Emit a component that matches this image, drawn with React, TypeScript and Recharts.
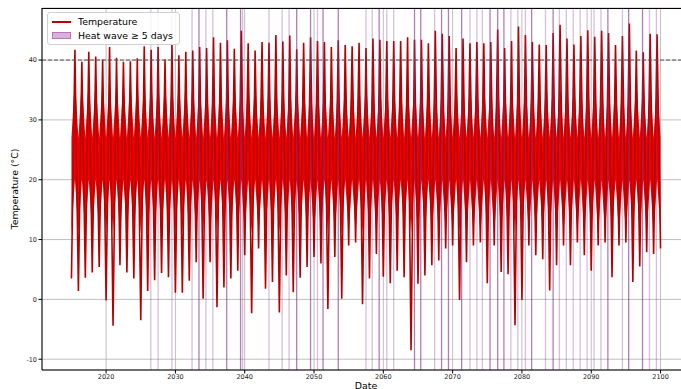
import React from 'react';
import {
  ComposedChart,
  Line,
  Area,
  XAxis,
  YAxis,
  CartesianGrid,
  ReferenceLine,
} from 'recharts';

// one summer peak and one winter low per year
const firstYear = 2015;
const summerPeaks = [
  41.7, 39.7, 41.4, 40.6, 40.1, 42.2, 40.4, 39.7, 39.8, 40.3,
  42.3, 41.7, 42.2, 40.1, 42.7, 40.8, 41.4, 41.6, 42.2, 42.0,
  43.8, 42.9, 43.3, 41.9, 44.9, 42.8, 41.6, 43.0, 42.9, 44.2,
  43.1, 44.1, 41.8, 42.9, 43.8, 43.2, 43.0, 42.2, 43.3, 42.5,
  42.3, 42.9, 42.0, 43.6, 43.4, 43.2, 43.2, 43.2, 43.8, 43.4,
  43.4, 42.8, 44.9, 44.4, 44.0, 42.0, 43.6, 42.8, 43.0, 42.8,
  43.0, 45.1, 42.0, 43.2, 45.6, 44.2, 43.0, 42.6, 42.5, 44.5,
  45.9, 43.6, 42.6, 44.0, 45.0, 43.9, 44.9, 44.5, 42.5, 44.0,
  46.1, 41.6, 41.3, 44.4, 44.3,
];
const winterLows = [
  3.5, 1.4, 3.6, 4.5, 5.4, -0.2, -4.4, 5.7, 4.5, 3.5,
  -3.5, 1.4, 3.2, 4.4, 3.7, 1.1, 1.1, 3.1, 6.2, 0.1,
  6.2, -1.3, 2.0, 3.5, 4.8, 7.4, -2.3, 8.5, 1.8, 2.9,
  -2.2, 4.0, 1.2, 3.6, 5.4, 7.1, 6.0, -1.6, 7.1, 0.1,
  9.0, 9.5, -0.8, 3.5, 7.6, 3.8, 2.7, 4.8, 3.7, -8.5,
  2.6, 4.0, 5.7, 6.5, 8.5, 9.0, -0.1, 6.2, 9.0, 9.5,
  2.7, 9.0, 4.6, 4.2, -4.3, -0.1, 9.0, 7.4, 6.7, 1.5,
  5.7, 9.0, 5.7, 9.5, 7.4, 4.8, 9.0, 9.5, 3.7, 9.0,
  9.5, 2.9, 5.5, 7.9, 7.6, 8.5,
];
// range of the dense daily band in winter and summer
const winterBand = [11, 27];
const summerBand = [20, 37];

// heat waves (decimal year of start), lighter and overlapping ones
const heatWaves = [
  2026.45, 2027.5, 2029.5, 2032.4, 2034.4, 2035.4, 2039.7, 2043.5, 2045.4,
  2046.4, 2050.5, 2057.5, 2058.4, 2060.5, 2061.5, 2067.4, 2072.5, 2073.5,
  2074.3, 2078.4, 2079.4, 2080.5, 2083.4, 2085.4, 2086.4, 2087.4, 2088.4,
  2089.4, 2090.4, 2091.4, 2094.5, 2098.4, 2099.4,
];
const heatWavesDark = [
  2033.4, 2037.4, 2039.4, 2047.5, 2049.5, 2051.3, 2053.5, 2059.4, 2064.5,
  2065.4, 2068.4, 2069.4, 2071.3, 2075.4, 2076.5, 2077.4, 2081.4, 2084.5,
  2092.4, 2095.4, 2097.4,
];

const xTicks = [2020, 2030, 2040, 2050, 2060, 2070, 2080, 2090, 2100];
const yTicks = [-10, 0, 10, 20, 30, 40];

const data: { t: number; temp: number; band: number[] }[] = [];
summerPeaks.forEach((peak, i) => {
  data.push({ t: firstYear + i, temp: winterLows[i], band: winterBand });
  data.push({ t: firstYear + i + 0.5, temp: peak, band: summerBand });
});
data.push({
  t: firstYear + summerPeaks.length,
  temp: winterLows[summerPeaks.length],
  band: winterBand,
});

const font = '"DejaVu Sans", sans-serif';
const tickStyle = { fill: '#222', fontSize: 6.5, fontFamily: font };

export default function App() {
  return (
    <div style={{ position: 'absolute', left: 0, top: 0, width: 700, height: 389, fontFamily: font }}>
      <ComposedChart
        width={700}
        height={389}
        data={data}
        margin={{ top: 8, right: 10, left: 0, bottom: 0 }}
      >
        <CartesianGrid stroke="#b0b0b0" strokeWidth={0.8} />
        <XAxis
          dataKey="t"
          type="number"
          domain={[2010.75, 2104.25]}
          ticks={xTicks}
          height={19}
          tick={tickStyle}
          tickSize={3.5}
          tickMargin={1}
          axisLine={{ stroke: '#000', strokeWidth: 1 }}
          tickLine={{ stroke: '#000' }}
          allowDataOverflow
        />
        <YAxis
          type="number"
          domain={[-11.8, 48.7]}
          ticks={yTicks}
          width={42}
          tick={tickStyle}
          tickSize={3.5}
          tickMargin={1.5}
          axisLine={{ stroke: '#000', strokeWidth: 1 }}
          tickLine={{ stroke: '#000' }}
          allowDataOverflow
        />
        <Area
          dataKey="band"
          type="linear"
          fill="#f20000"
          fillOpacity={1}
          stroke="none"
          isAnimationActive={false}
        />
        <Line
          dataKey="temp"
          type="linear"
          stroke="#b80000"
          strokeWidth={1.6}
          dot={false}
          isAnimationActive={false}
        />
        {heatWaves.map((d) => (
          <ReferenceLine key={`hw-${d}`} x={d} stroke="#7a2a86" strokeOpacity={0.3} strokeWidth={1.3} />
        ))}
        {heatWavesDark.map((d) => (
          <ReferenceLine key={`hwd-${d}`} x={d} stroke="#7a2a86" strokeOpacity={0.6} strokeWidth={1.3} />
        ))}
        <ReferenceLine y={40} stroke="#555" strokeDasharray="4 2" strokeWidth={1} />
      </ComposedChart>

      {/* frame */}
      <div
        style={{
          position: 'absolute',
          left: 42,
          top: 8,
          width: 648,
          height: 362,
          borderTop: '1px solid #000',
          borderRight: '1px solid #000',
          boxSizing: 'border-box',
          pointerEvents: 'none',
        }}
      />

      {/* legend */}
      <div
        style={{
          position: 'absolute',
          left: 47,
          top: 12,
          width: 133,
          height: 33,
          background: 'rgba(255,255,255,0.85)',
          border: '1px solid #d0d0d0',
          borderRadius: 3,
          boxSizing: 'border-box',
          fontSize: 9.4,
          color: '#000',
        }}
      >
        <div style={{ position: 'absolute', left: 4, top: 8, width: 19, height: 1.5, background: '#c00000' }} />
        <div style={{ position: 'absolute', left: 30, top: 2, lineHeight: '13px' }}>Temperature</div>
        <div
          style={{
            position: 'absolute',
            left: 4,
            top: 19,
            width: 19,
            height: 7,
            background: 'rgba(128,0,128,0.3)',
            border: '1px solid rgba(128,0,128,0.35)',
            boxSizing: 'border-box',
          }}
        />
        <div style={{ position: 'absolute', left: 30, top: 16, lineHeight: '13px' }}>Heat wave ≥ 5 days</div>
      </div>

      {/* axis labels */}
      <div
        style={{
          position: 'absolute',
          left: 366,
          top: 385,
          transform: 'translate(-50%, -50%)',
          fontSize: 9.4,
          whiteSpace: 'nowrap',
        }}
      >
        Date
      </div>
      <div
        style={{
          position: 'absolute',
          left: 14,
          top: 189,
          transform: 'translate(-50%, -50%) rotate(-90deg)',
          fontSize: 9.4,
          whiteSpace: 'nowrap',
        }}
      >
        Temperature (°C)
      </div>
    </div>
  );
}
